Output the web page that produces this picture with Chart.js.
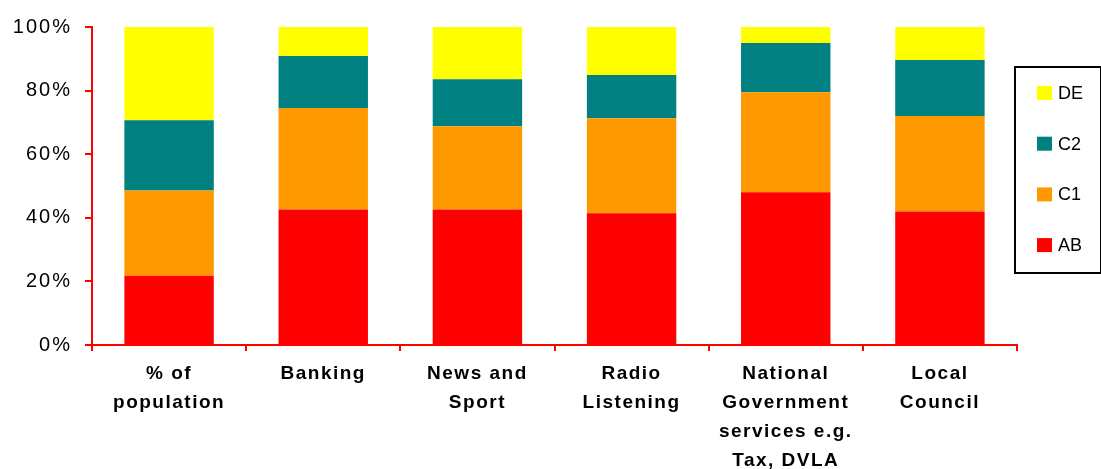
<!DOCTYPE html>
<html>
<head>
<meta charset="utf-8">
<script src="https://cdn.jsdelivr.net/npm/chart.js@4"></script>
<style>
  html, body { margin: 0; padding: 0; background: #fff; }
  #wrap { width: 1101px; height: 469px; }
</style>
</head>
<body>
<div id="wrap"><canvas id="gradeChart"></canvas></div>
<script>
const categories = [
  ["% of", "population"],
  "Banking",
  ["News and", "Sport"],
  ["Radio", "Listening"],
  ["National", "Government", "services e.g.", "Tax, DVLA"],
  ["Local", "Council"],
];
const groups = ["AB", "C1", "C2", "DE"];
const abShare = [21.8, 42.6, 42.6, 41.4, 48.0, 42.0];
const c1Share = [26.8, 31.9, 26.2, 29.9, 31.5, 30.0];
const c2Share = [22.1, 16.4, 14.8, 13.6, 15.5, 17.6];
const deShare = [29.3, 9.1, 16.4, 15.1, 5.0, 10.4];
const yTicks = [0, 20, 40, 60, 80, 100];

const colours = ["#ff0000", "#ff9900", "#008080", "#ffff00"];
const axisRed = "#ff0000";
const labelSpacing = { x: "1.5px", y: "2px" };

// wider letter spacing on the axis labels, set per scale
const spacing = {
  id: "spacing",
  afterUpdate(chart) {
    Object.values(chart.scales).forEach((scale) => {
      if (scale._spaced) return;
      const orig = scale.drawLabels.bind(scale);
      scale.drawLabels = (area) => {
        const ctx = scale.ctx;
        const prev = ctx.letterSpacing;
        ctx.letterSpacing = labelSpacing[scale.id] || "0px";
        orig(area);
        ctx.letterSpacing = prev;
      };
      scale._spaced = true;
    });
  },
};

// boxed legend on the right, top entry = top of the stack
const boxLegend = {
  id: "boxLegend",
  afterDraw(chart) {
    const ctx = chart.ctx;
    const left = chart.chartArea.right - 2;
    const top = 67;
    ctx.save();
    ctx.letterSpacing = "0px";
    ctx.strokeStyle = "#000";
    ctx.lineWidth = 2;
    ctx.strokeRect(left, top, 86, 206);
    const sets = chart.data.datasets.slice().reverse();
    ctx.font = "18px 'Liberation Sans', Arial, sans-serif";
    ctx.textBaseline = "middle";
    ctx.textAlign = "left";
    sets.forEach((ds, i) => {
      const cy = top + 26 + i * 50.7;
      ctx.fillStyle = ds.backgroundColor;
      ctx.fillRect(left + 22, cy - 7, 15, 14);
      ctx.fillStyle = "#000";
      ctx.fillText(ds.label, left + 43, cy + 1);
    });
    ctx.restore();
  },
};

const series = [abShare, c1Share, c2Share, deShare];

new Chart(document.getElementById("gradeChart"), {
  type: "bar",
  data: {
    labels: categories,
    datasets: groups.map((g, i) => ({
      label: g,
      data: series[i],
      backgroundColor: colours[i],
      borderWidth: 0,
      barPercentage: 0.58,
      categoryPercentage: 1,
    })),
  },
  options: {
    responsive: true,
    maintainAspectRatio: false,
    animation: false,
    layout: { padding: { top: 27, right: 84, bottom: 0, left: 0 } },
    plugins: { legend: { display: false }, tooltip: { enabled: false } },
    scales: {
      x: {
        stacked: true,
        afterFit(scale) { scale.height = 124; },
        grid: {
          offset: true,
          drawOnChartArea: false,
          color: axisRed,
          lineWidth: 2,
          tickLength: 6,
        },
        border: { color: axisRed, width: 2 },
        ticks: {
          color: "#000",
          padding: 8,
          maxRotation: 0,
          autoSkip: false,
          font: { family: "'Liberation Sans', Arial, sans-serif", size: 19, weight: "bold", lineHeight: "29px" },
        },
      },
      y: {
        stacked: true,
        min: 0,
        max: 100,
        afterFit(scale) { scale.width = 92; },
        afterBuildTicks(scale) { scale.ticks = yTicks.map((v) => ({ value: v })); },
        grid: {
          drawOnChartArea: false,
          color: axisRed,
          lineWidth: 2,
          tickLength: 7,
        },
        border: { color: axisRed, width: 2 },
        ticks: {
          color: "#000",
          padding: 13,
          callback: (v) => v + "%",
          font: { family: "'Liberation Sans', Arial, sans-serif", size: 20 },
        },
      },
    },
  },
  plugins: [spacing, boxLegend],
});
</script>
</body>
</html>
